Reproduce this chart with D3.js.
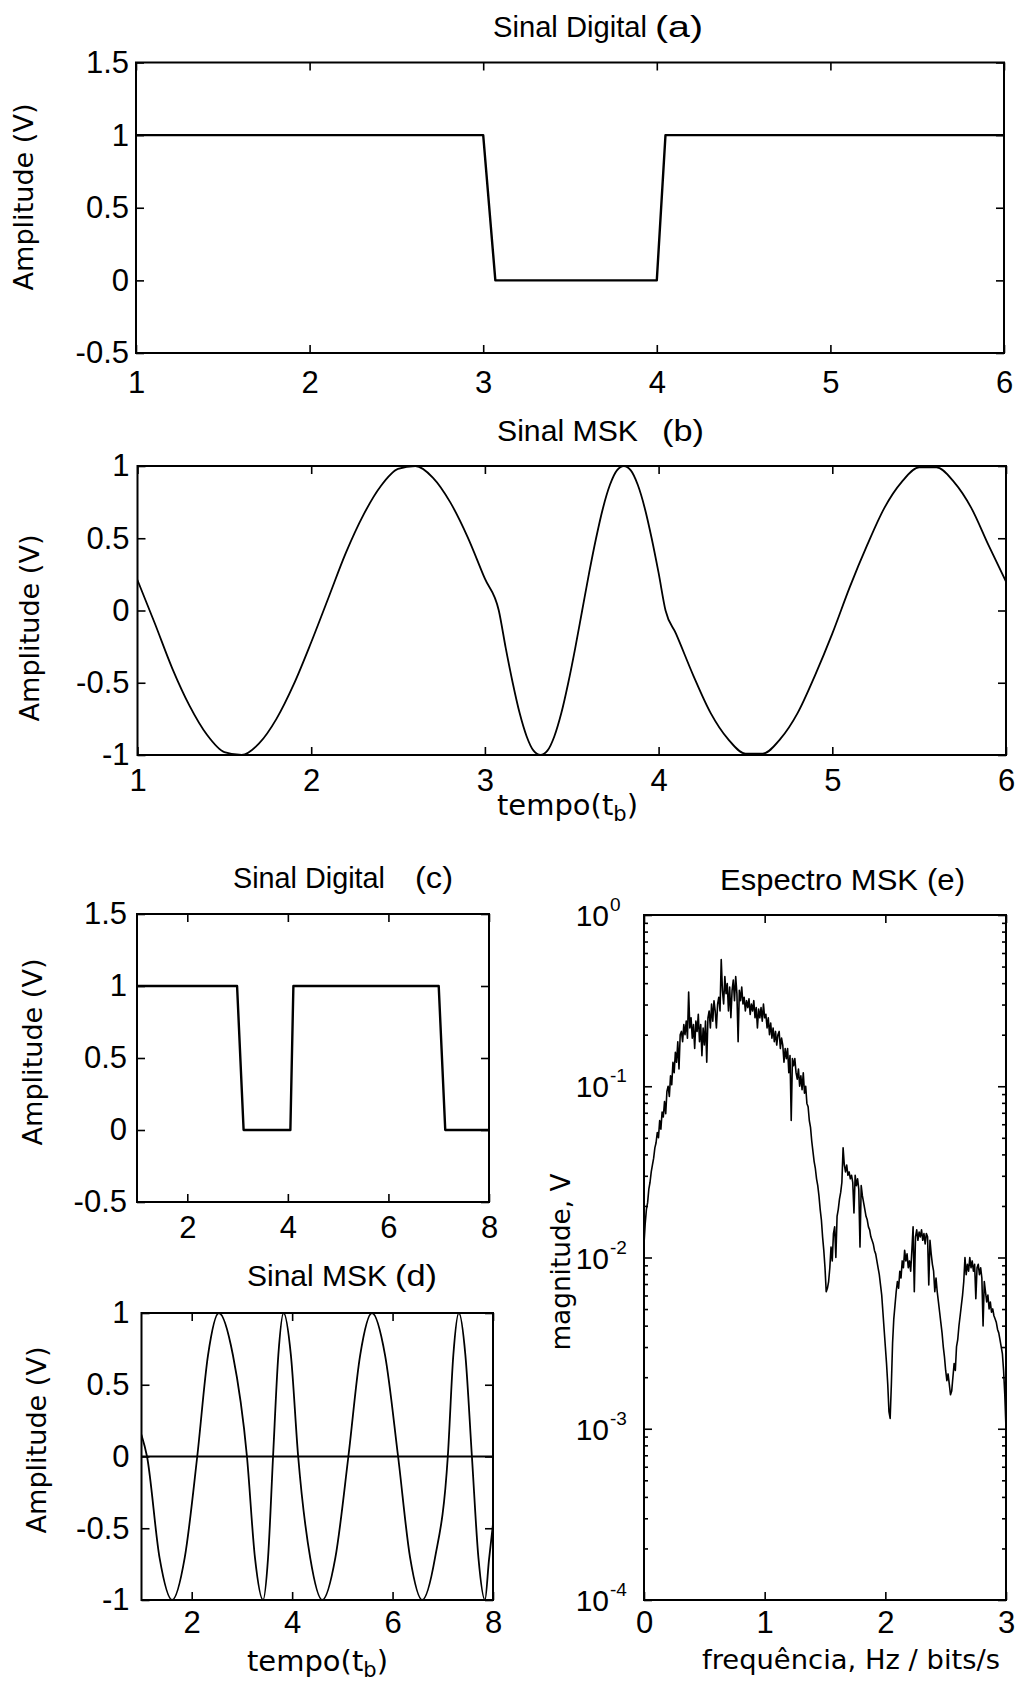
<!DOCTYPE html>
<html>
<head>
<meta charset="utf-8">
<script src="https://cdn.jsdelivr.net/npm/d3@7"></script>
<style>
  html, body { margin: 0; padding: 0; background: #fff; }
  svg { display: block; }
</style>
</head>
<body>
<svg id="fig" width="1023" height="1681"></svg>
<script>
// ---------- data ----------
// (a) digital signal, bits 1 1 0 1 1 over t = 1..6 (t in bit periods)
const digitalA_t = [1, 3.0, 3.07, 4.0, 4.05, 6];
const digitalA_v = [1, 1, 0, 0, 1, 1];

// (b) MSK waveform for the same bits
const mskB_t = [1.0, 1.1, 1.2, 1.3, 1.4, 1.5, 1.6, 1.7, 1.8, 1.9, 2.0, 2.1, 2.2, 2.3, 2.4, 2.5, 2.6, 2.7, 2.8, 2.9, 3.0,
  3.08, 3.12, 3.16, 3.20, 3.24, 3.28, 3.32, 3.36, 3.40, 3.44, 3.48, 3.52, 3.56, 3.60, 3.64, 3.68, 3.72, 3.76, 3.80,
  3.84, 3.88, 3.92, 3.96, 4.00, 4.04,
  4.1, 4.2, 4.3, 4.4, 4.5, 4.6, 4.7, 4.8, 4.9, 5.0, 5.1, 5.2, 5.3, 5.4, 5.5, 5.6, 5.7, 5.8, 5.9, 6.0];
const mskB_v = [0.21, -0.09, -0.40, -0.66, -0.86, -0.98, -1.0, -0.92, -0.75, -0.51, -0.22, 0.09, 0.40, 0.66, 0.86, 0.98, 1.0, 0.92, 0.75, 0.51, 0.22,
  0, -0.26, -0.5, -0.71, -0.87, -0.97, -1, -0.97, -0.87, -0.71, -0.5, -0.26, 0, 0.26, 0.5, 0.71, 0.87, 0.97, 1,
  0.97, 0.87, 0.71, 0.5, 0.26, 0,
  -0.16, -0.45, -0.71, -0.89, -0.99, -0.99, -0.89, -0.71, -0.45, -0.16, 0.16, 0.45, 0.71, 0.89, 0.99, 0.99, 0.89, 0.71, 0.45, 0.20];

// (c) digital signal, bits 1 1 0 1 1 1 0 over t = 1..8
const digitalC_t = [1, 2.99, 3.12, 4.05, 4.11, 7.0, 7.13, 8];
const digitalC_v = [1, 1, 0, 0, 1, 1, 0, 0];

// (d) MSK waveform for the bits of (c)
const mskD_t = [1.00, 1.11, 1.36, 1.61, 1.86, 2.11, 2.325, 2.54, 2.82, 3.10, 3.26, 3.42, 3.52, 3.62, 3.725, 3.83,
  3.975, 4.12, 4.36, 4.60, 4.86, 5.12, 5.355, 5.59, 5.85, 6.11, 6.35, 6.59, 6.845, 7.10, 7.21, 7.32, 7.45,
  7.58, 7.71, 7.84, 7.92, 8.00];
const mskD_v = [0.15, 0, -0.707, -1, -0.707, 0, 0.707, 1, 0.707, 0, -0.707, -1, -0.707, 0, 0.707, 1,
  0.707, 0, -0.707, -1, -0.707, 0, 0.707, 1, 0.707, 0, -0.707, -1, -0.707, 0, 0.707, 1, 0.707,
  0, -0.707, -1, -0.72, -0.47];
const mskD_zero = 0;   // reference line drawn across (d)

// (e) MSK magnitude spectrum, sampled every 0.01 from 0 to 3 (Hz / bit/s)
const specStart = 0, specStep = 0.01;
const specMag = [
  0.0120, 0.0158, 0.0191, 0.0209, 0.0251, 0.0275, 0.0316, 0.0347, 0.0380, 0.0437,
  0.0468, 0.0537, 0.0501, 0.0631, 0.0562, 0.0708, 0.0661, 0.0813, 0.0692, 0.0933,
  0.100, 0.0871, 0.115, 0.102, 0.138, 0.120, 0.158, 0.138, 0.182, 0.126,
  0.200, 0.209, 0.182, 0.229, 0.200, 0.240, 0.191, 0.355, 0.219, 0.251,
  0.191, 0.229, 0.166, 0.240, 0.209, 0.263, 0.182, 0.229, 0.151, 0.219,
  0.174, 0.240, 0.138, 0.251, 0.275, 0.219, 0.302, 0.240, 0.316, 0.275,
  0.219, 0.302, 0.331, 0.275, 0.550, 0.363, 0.302, 0.437, 0.347, 0.398,
  0.275, 0.380, 0.251, 0.363, 0.417, 0.316, 0.437, 0.347, 0.182, 0.363,
  0.316, 0.380, 0.302, 0.331, 0.275, 0.316, 0.288, 0.324, 0.263, 0.302,
  0.275, 0.316, 0.251, 0.288, 0.219, 0.282, 0.251, 0.288, 0.240, 0.302,
  0.251, 0.263, 0.219, 0.251, 0.200, 0.234, 0.191, 0.219, 0.182, 0.209,
  0.174, 0.200, 0.209, 0.166, 0.191, 0.174, 0.138, 0.166, 0.145, 0.166,
  0.120, 0.151, 0.0631, 0.145, 0.132, 0.145, 0.120, 0.110, 0.126, 0.100,
  0.115, 0.0955, 0.120, 0.0912, 0.100, 0.0794, 0.0759, 0.0631, 0.0575, 0.0479,
  0.0417, 0.0363, 0.0331, 0.0288, 0.0263, 0.0229, 0.0191, 0.0166, 0.0132, 0.0110,
  0.00871, 0.00631, 0.00661, 0.00724, 0.00871, 0.0115, 0.00955, 0.0138, 0.0151, 0.0100,
  0.0174, 0.0191, 0.0219, 0.0240, 0.0275, 0.0437, 0.0347, 0.0316, 0.0347, 0.0302,
  0.0316, 0.0288, 0.0302, 0.0275, 0.0182, 0.0302, 0.0263, 0.0288, 0.0251, 0.0115,
  0.0263, 0.0229, 0.0209, 0.0191, 0.0174, 0.0166, 0.0151, 0.0145, 0.0132, 0.0126,
  0.0120, 0.0110, 0.0105, 0.00955, 0.00871, 0.00794, 0.00692, 0.00603, 0.00479, 0.00380,
  0.00302, 0.00240, 0.00182, 0.00126, 0.00115, 0.00182, 0.00316, 0.00437, 0.00525, 0.00631,
  0.00724, 0.00661, 0.00832, 0.00759, 0.00955, 0.00871, 0.0110, 0.00955, 0.0105, 0.00871,
  0.00955, 0.00832, 0.0110, 0.0151, 0.00631, 0.0132, 0.0145, 0.0126, 0.0141, 0.0132,
  0.0145, 0.0126, 0.0138, 0.0120, 0.0138, 0.0132, 0.00692, 0.0126, 0.0105, 0.00912,
  0.00832, 0.00631, 0.00759, 0.00631, 0.00550, 0.00479, 0.00417, 0.00363, 0.00302, 0.00263,
  0.00219, 0.00191, 0.00209, 0.00182, 0.00158, 0.00166, 0.00200, 0.00240, 0.00219, 0.00302,
  0.00331, 0.00398, 0.00457, 0.00525, 0.00603, 0.00724, 0.0100, 0.00794, 0.00912, 0.00832,
  0.0100, 0.00871, 0.00955, 0.00832, 0.00912, 0.00575, 0.00871, 0.00912, 0.00794, 0.00871,
  0.00759, 0.00398, 0.00724, 0.00631, 0.00550, 0.00603, 0.00501, 0.00550, 0.00479, 0.00501,
  0.00457, 0.00437, 0.00417, 0.00380, 0.00363, 0.00331, 0.00302, 0.00275, 0.00219, 0.00158,
  0.00100
];

// tick values and labels
const ampTicksDigital = [-0.5, 0, 0.5, 1, 1.5];
const ampTicksMsk = [-1, -0.5, 0, 0.5, 1];
const timeTicksTop = [1, 2, 3, 4, 5, 6];
const timeTicksBottom = [2, 4, 6, 8];
const freqTicks = [0, 1, 2, 3];
const magExponents = [0, -1, -2, -3, -4];
const magMinorMultipliers = [2, 3, 4, 5, 6, 7, 8, 9];

const titles = {
  a: ["Sinal Digital", "(a)"], b: ["Sinal MSK", "(b)"], c: ["Sinal Digital", "(c)"],
  d: ["Sinal MSK", "(d)"], e: ["Espectro MSK", "(e)"]
};
const ampLabel = "Amplitude (V)";
const magLabel = "magnitude, V";
const freqLabel = "frequência, Hz / bits/s";

// ---------- drawing ----------
const tickFont = "'Liberation Sans', Arial, Helvetica, sans-serif";
const labelFont = "'DejaVu Sans', Verdana, sans-serif";
const svg = d3.select("#fig");
const fmtNum = d => String(d);   // plain hyphen-minus, e.g. "-0.5"

function styleAxis(g, size) {
  g.select(".domain").remove();
  g.selectAll("line").attr("stroke", "#000").attr("stroke-width", 1.6);
  g.attr("font-family", tickFont).attr("font-size", size);
  g.selectAll("text").attr("fill", "#000");
}

function boxAxes(id, x, y, xTicks, yTicks, opt) {
  const [x0, x1] = x.range();
  const [yb, yt] = y.range();
  const g = svg.append("g").attr("id", id);

  g.append("g").attr("transform", `translate(0,${yb})`)
    .call(d3.axisBottom(x).tickValues(xTicks).tickSize(-8).tickPadding(opt.xPad)
      .tickFormat(opt.xLabels === false ? "" : fmtNum))
    .call(a => styleAxis(a, 31));
  g.append("g").attr("transform", `translate(0,${yt})`)
    .call(d3.axisTop(x).tickValues(xTicks).tickSize(-8).tickFormat(""))
    .call(a => styleAxis(a, 31));
  g.append("g").attr("transform", `translate(${x0},0)`)
    .call(d3.axisLeft(y).tickValues(yTicks).tickSize(-8).tickPadding(opt.yPad)
      .tickFormat(opt.yLabels === false ? "" : fmtNum))
    .call(a => styleAxis(a, 31));
  g.append("g").attr("transform", `translate(${x1},0)`)
    .call(d3.axisRight(y).tickValues(yTicks).tickSize(-8).tickFormat(""))
    .call(a => styleAxis(a, 31));

  g.append("rect")
    .attr("x", x0).attr("y", yt).attr("width", x1 - x0).attr("height", yb - yt)
    .attr("fill", "none").attr("stroke", "#000").attr("stroke-width", 2);

  const clipId = id + "-clip";
  g.append("clipPath").attr("id", clipId).append("rect")
    .attr("x", x0).attr("y", yt - 2).attr("width", x1 - x0).attr("height", yb - yt + 4);
  return g.append("g").attr("clip-path", `url(#${clipId})`);
}

function title(parts, x1, x2, x3, x4, base) {
  svg.append("text").attr("x", x1).attr("y", base).attr("font-family", tickFont).attr("font-size", 29)
    .attr("textLength", x2 - x1).attr("lengthAdjust", "spacingAndGlyphs").text(parts[0]);
  svg.append("text").attr("x", x3).attr("y", base).attr("font-family", tickFont).attr("font-size", 29)
    .attr("textLength", x4 - x3).attr("lengthAdjust", "spacingAndGlyphs").text(parts[1]);
}

function yLabel(txt, bx, cy, len) {
  svg.append("text").attr("transform", `translate(${bx},${cy}) rotate(-90)`)
    .attr("text-anchor", "middle").attr("font-family", labelFont).attr("font-size", 27)
    .attr("textLength", len).attr("lengthAdjust", "spacingAndGlyphs").text(txt);
}

function tempoLabel(x, base) {
  const t = svg.append("text").attr("x", x).attr("y", base)
    .attr("font-family", labelFont).attr("font-size", 29);
  t.append("tspan").text("tempo(t");
  t.append("tspan").attr("dy", 6).attr("font-size", 21).text("b");
  t.append("tspan").attr("dy", -6).text(")");
}

function trace(layer, x, y, ts, vs, width, curve) {
  const line = d3.line().x(d => x(d[0])).y(d => y(d[1])).curve(curve || d3.curveLinear);
  layer.append("path").datum(d3.zip(ts, vs)).attr("d", line)
    .attr("fill", "none").attr("stroke", "#000").attr("stroke-width", width)
    .attr("stroke-linejoin", "round").attr("stroke-linecap", "round");
}

// (a)
{
  const x = d3.scaleLinear().domain([1, 6]).range([136, 1004]);
  const y = d3.scaleLinear().domain([-0.5, 1.5]).range([353, 62.5]);
  const layer = boxAxes("pa", x, y, timeTicksTop, ampTicksDigital, { xPad: 18, yPad: 7 });
  trace(layer, x, y, digitalA_t, digitalA_v, 2.4);
  title(titles.a, 493, 647, 655, 703, 37);
  yLabel(ampLabel, 33, 197, 187);
}

// (b)
{
  const x = d3.scaleLinear().domain([1, 6]).range([137.5, 1006]);
  const y = d3.scaleLinear().domain([-1, 1]).range([755, 466]);
  const layer = boxAxes("pb", x, y, timeTicksTop, ampTicksMsk, { xPad: 14, yPad: 8 });
  trace(layer, x, y, mskB_t, mskB_v, 1.8, d3.curveMonotoneX);
  title(titles.b, 497, 638, 662, 704, 441);
  yLabel(ampLabel, 39, 628, 187);
  tempoLabel(497, 815);
}

// (c)
{
  const x = d3.scaleLinear().domain([1, 8]).range([137, 489]);
  const y = d3.scaleLinear().domain([-0.5, 1.5]).range([1202, 914]);
  const layer = boxAxes("pc", x, y, timeTicksBottom, ampTicksDigital, { xPad: 14, yPad: 10 });
  trace(layer, x, y, digitalC_t, digitalC_v, 2.4);
  title(titles.c, 233, 385, 415, 453, 888);
  yLabel(ampLabel, 42, 1052, 187);
}

// (d)
{
  const x = d3.scaleLinear().domain([1, 8]).range([141.5, 493]);
  const y = d3.scaleLinear().domain([-1, 1]).range([1600, 1313]);
  const layer = boxAxes("pd", x, y, timeTicksBottom, ampTicksMsk, { xPad: 11, yPad: 12 });
  layer.append("line").attr("x1", x(1)).attr("x2", x(8)).attr("y1", y(mskD_zero)).attr("y2", y(mskD_zero))
    .attr("stroke", "#000").attr("stroke-width", 2.2);
  trace(layer, x, y, mskD_t, mskD_v, 1.8, d3.curveMonotoneX);
  title(titles.d, 247, 387, 395, 437, 1286);
  yLabel(ampLabel, 46, 1440, 187);
  tempoLabel(247, 1671);
}

// (e)
{
  const x = d3.scaleLinear().domain([0, 3]).range([644, 1006]);
  const y = d3.scaleLog().domain([1e-4, 1]).range([1600, 915]);
  const decades = magExponents.map(e => Math.pow(10, e));
  const layer = boxAxes("pe", x, y, freqTicks, decades, { xPad: 11, yPad: 8, yLabels: false });

  // minor log ticks on both sides
  const minor = [];
  magExponents.slice(1).forEach(e => magMinorMultipliers.forEach(m => minor.push(m * Math.pow(10, e))));
  const mg = svg.append("g");
  mg.append("g").attr("transform", "translate(644,0)")
    .call(d3.axisLeft(y).tickValues(minor).tickSize(-4).tickFormat("")).call(a => styleAxis(a, 31));
  mg.append("g").attr("transform", "translate(1006,0)")
    .call(d3.axisRight(y).tickValues(minor).tickSize(-4).tickFormat("")).call(a => styleAxis(a, 31));

  // decade labels 10^n
  magExponents.forEach(e => {
    const yy = y(Math.pow(10, e));
    svg.append("text").attr("x", 609).attr("y", yy + 11).attr("text-anchor", "end")
      .attr("font-family", tickFont).attr("font-size", 30).text("10");
    svg.append("text").attr("x", 610).attr("y", yy - 4)
      .attr("font-family", tickFont).attr("font-size", 19).text(String(e));
  });

  const freq = specMag.map((_, i) => specStart + i * specStep);
  trace(layer, x, y, freq, specMag, 1.6);

  title(titles.e, 720, 918, 927, 965, 890);
  yLabel(magLabel, 570, 1262, 177);
  svg.append("text").attr("x", 702).attr("y", 1669).attr("font-family", labelFont).attr("font-size", 27)
    .attr("textLength", 298).attr("lengthAdjust", "spacingAndGlyphs").text(freqLabel);
}
</script>
</body>
</html>
